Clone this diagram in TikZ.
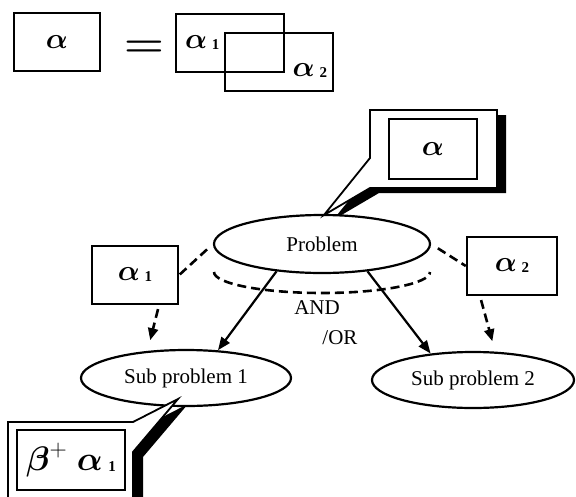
\RequirePackage{fix-cm}
\documentclass[tikz,border=0pt]{standalone}
\usepackage{amsmath}
\usepackage{fontspec}
\setmainfont{Liberation Serif}
\usetikzlibrary{shapes.geometric,arrows.meta}

% outlines of the two speech bubbles
\newcommand{\bubbletop}{(370,110) -- (497,110) -- (497,188) -- (370,188) -- (324,215) -- (370,158) -- cycle}
\newcommand{\bubblelow}{(8,422) -- (133,422) -- (178,399) -- (133,452) -- (133,510) -- (8,510) -- cycle}
% small index digit next to a letter
\newcommand{\idx}[1]{\,\raisebox{-1pt}{\text{\fontsize{15}{15}\selectfont\bfseries #1}}}

\begin{document}
\begin{tikzpicture}[x=1pt,y=-1pt]
\tikzset{every node/.style={inner sep=0pt},
  box/.style={draw,line width=2.4pt,minimum width=86,minimum height=58},
  oval/.style={ellipse,draw,line width=2.2pt,fill=white,font=\fontsize{21}{24}\selectfont},
  greek/.style={font=\fontsize{29}{32}\selectfont},
  txt/.style={font=\fontsize{21}{24}\selectfont},
  dashline/.style={line width=2.6pt,dash pattern=on 9pt off 5pt},
  arr/.style={line width=2.2pt,-{Triangle[length=13pt,width=10pt]}},
  darr/.style={dashline,-{Triangle[length=12pt,width=10pt]}},
  bubble/.style={draw,line width=1.8pt,fill=white,line join=miter}}
\clip (0,0) rectangle (576,496);

    % alpha = alpha1 + alpha2
    \node[box,greek] (lhs) at (57,42) {$\boldsymbol{\alpha}$};
    \node[font=\fontsize{40}{40}\selectfont] (eq) at (144,49) {\scalebox{1.15}[1]{$\boldsymbol{=}$}};
    \node[box,minimum width=108] (sumone) at (230,43) {};
    \node[box,minimum width=108] (sumtwo) at (279,62) {};
    \node[greek,anchor=west] (sumonea) at ([xshift=10pt]sumone.west) {$\boldsymbol{\alpha}\idx{1}$};
    \node[greek,anchor=east] (sumtwoa) at ([xshift=-7pt,yshift=-9pt]sumtwo.east) {$\boldsymbol{\alpha}\idx{2}$};

    % shadows
    \fill[black,shift={(9,5)}] \bubbletop;
    \fill[black,shift={(10,5)}] \bubblelow;

    % tree
    \node[oval,minimum width=216,minimum height=58] (prob) at (322,244) {Problem};
    \node[oval,minimum width=210,minimum height=56] (sone) at (186,378) {Sub problem 1};
    \node[oval,minimum width=202,minimum height=56] (stwo) at (473,380) {Sub problem 2};

    \filldraw[bubble] \bubbletop;
    \node[box,greek,minimum width=88,minimum height=60] (topnote) at (433,149) {$\boldsymbol{\alpha}$};
    \filldraw[bubble] \bubblelow;
    \node[box,minimum width=108,minimum height=60,font=\fontsize{34}{36}\selectfont] (lownote) at (71,460) {$\boldsymbol{\beta}^{+}\;\boldsymbol{\alpha}\idx{1}$};

    \node[box,greek] (aone) at (135,275) {$\boldsymbol{\alpha}\idx{1}$};
    \node[box,greek,minimum width=90] (atwo) at (512,266) {$\boldsymbol{\alpha}\idx{2}$};

    \draw[dashline] (214,272) arc[start angle=180,end angle=360,x radius=108pt,y radius=21pt];
    \node[txt] (andtxt) at (317,308) {AND};
    \node[txt] (ortxt) at (340,338) {/OR};

    \draw[arr] (prob.211) -- (sone.41);
    \draw[arr] (prob.329) -- (stwo.148);
    \draw[dashline,shorten <=8pt] (prob.west) -- (aone.east);
    \draw[dashline,shorten <=8pt] (prob.east) -- (atwo.west);
    \draw[darr,shorten <=4pt,shorten >=9pt] ([xshift=24pt]aone.south) -- ([xshift=-38pt]sone.north);
    \draw[darr,shorten <=4pt,shorten >=10pt] ([xshift=-32pt]atwo.south) -- ([xshift=22pt]stwo.north);
\end{tikzpicture}
\end{document}
